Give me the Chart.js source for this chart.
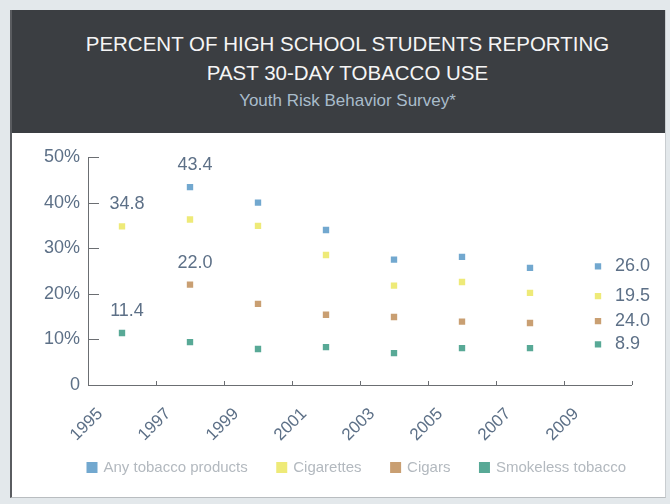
<!DOCTYPE html>
<html>
<head>
<meta charset="utf-8">
<script src="https://cdn.jsdelivr.net/npm/chart.js@4"></script>
<style>
  html, body { margin: 0; padding: 0; }
  body { width: 670px; height: 504px; background: #e3e8eb; position: relative; overflow: hidden;
         font-family: "Liberation Sans", Arial, sans-serif; }
  #panel { position: absolute; left: 10px; top: 10px; width: 653px; height: 487px; background: #fff;
           border-left: 2px solid #5a5c60; border-right: 1px solid #c9cdd0; border-bottom: 1px solid #b9bdc0; }
  #header { position: absolute; left: 0; top: 0; width: 653px; height: 123px; background: #3b3e42;
            text-align: center; box-sizing: border-box; padding-left: 18px; }
  #header .t { color: #f5f5f5; font-size: 20.5px; line-height: 29px; }
  #header .t1 { padding-top: 19px; }
  #header .s { color: #a9bccb; font-size: 17px; line-height: 28px; }
  #wrap { position: absolute; left: 0; top: 123px; width: 652px; height: 364px; }
</style>
</head>
<body>
<div id="panel">
  <div id="header">
    <div class="t t1">PERCENT OF HIGH SCHOOL STUDENTS REPORTING</div>
    <div class="t">PAST 30-DAY TOBACCO USE</div>
    <div class="s">Youth Risk Behavior Survey*</div>
  </div>
  <div id="wrap"><canvas id="myChart" width="652" height="364"></canvas></div>
</div>
<script>
// Survey years and percentages
const years = ['1995', '1997', '1999', '2001', '2003', '2005', '2007', '2009'];
const anyTobacco = [null, 43.4, 40.0, 34.0, 27.5, 28.1, 25.7, 26.0];
const cigarettes = [34.8, 36.3, 34.9, 28.5, 21.8, 22.6, 20.2, 19.5];
const cigars = [null, 22.0, 17.8, 15.4, 14.9, 13.9, 13.6, 14.0];
const smokeless = [11.4, 9.4, 7.9, 8.3, 7.0, 8.1, 8.1, 8.9];

// Printed value labels (as they appear on the chart)
const anyLabels = [null, '43.4', null, null, null, null, null, '26.0'];
const cigLabels = ['34.8', null, null, null, null, null, null, '19.5'];
const cigarLabels = [null, '22.0', null, null, null, null, null, '24.0'];
const smokelessLabels = ['11.4', null, null, null, null, null, null, '8.9'];

const yTicks = [0, 10, 20, 30, 40, 50];

const textColor = '#5d7087';

// Value labels next to points
const valueLabels = {
    id: 'valueLabels',
    afterDatasetsDraw(chart) {
        const ctx = chart.ctx;
        ctx.save();
        ctx.font = '18px "Liberation Sans", Arial, sans-serif';
        ctx.fillStyle = textColor;
        ctx.textBaseline = 'middle';
        chart.data.datasets.forEach((ds, i) => {
            const meta = chart.getDatasetMeta(i);
            ds.valueLabels.forEach((txt, j) => {
                if (!txt) return;
                const pt = meta.data[j];
                if (j === ds.valueLabels.length - 1) {
                    ctx.textAlign = 'left';
                    ctx.fillText(txt, pt.x + 17, pt.y);
                } else {
                    ctx.textAlign = 'center';
                    ctx.fillText(txt, pt.x + 5, pt.y - 22);
                }
            });
        });
        ctx.restore();
    }
};

// Axis lines with small inward ticks
const axisTicks = {
    id: 'axisTicks',
    afterDraw(chart) {
        const ctx = chart.ctx;
        const x = chart.scales.x, y = chart.scales.y;
        const a = chart.chartArea;
        ctx.save();
        ctx.strokeStyle = '#6b6e72';
        ctx.lineWidth = 1;
        ctx.beginPath();
        ctx.moveTo(a.left + 0.5, a.top);
        ctx.lineTo(a.left + 0.5, a.bottom + 0.5);
        ctx.lineTo(a.right, a.bottom + 0.5);
        yTicks.forEach(v => {
            const py = Math.round(y.getPixelForValue(v)) + 0.5;
            ctx.moveTo(a.left, py);
            ctx.lineTo(a.left + 11, py);
        });
        for (let i = 1; i <= years.length; i++) {
            const px = Math.round(x.getPixelForValue(i - 0.5)) + 0.5;
            ctx.moveTo(px, a.bottom);
            ctx.lineTo(px, a.bottom - 4);
        }
        ctx.stroke();
        ctx.restore();
    }
};

// Move the legend under the plot (start at the y axis, a bit higher)
const legendShift = {
    id: 'legendShift',
    afterLayout(chart) {
        const lg = chart.legend;
        lg.left += 46; lg.right += 46;
        lg.top -= 12; lg.bottom -= 12;
    }
};

const ctx = document.getElementById('myChart').getContext('2d');

const myChart = new Chart(ctx, {
    type: 'line',
    data: {
        labels: years,
        datasets: [
            { label: 'Any tobacco products', data: anyTobacco, valueLabels: anyLabels,
              backgroundColor: '#72a8cf', borderColor: '#72a8cf' },
            { label: 'Cigarettes', data: cigarettes, valueLabels: cigLabels,
              backgroundColor: '#eeea78', borderColor: '#eeea78' },
            { label: 'Cigars', data: cigars, valueLabels: cigarLabels,
              backgroundColor: '#c99f72', borderColor: '#c99f72' },
            { label: 'Smokeless tobacco', data: smokeless, valueLabels: smokelessLabels,
              backgroundColor: '#58a996', borderColor: '#58a996' }
        ]
    },
    options: {
        responsive: false,
        animation: false,
        showLine: false,
        layout: { padding: { left: 0, right: 32, top: 24, bottom: 0 } },
        elements: {
            point: { pointStyle: 'rect', radius: 4.5, borderWidth: 0, hoverRadius: 4.5 }
        },
        plugins: {
            legend: {
                position: 'bottom',
                align: 'start',
                labels: {
                    boxWidth: 8,
                    boxHeight: 8,
                    padding: 30,
                    color: '#b3b9bf',
                    font: { size: 15, family: '"Liberation Sans", Arial, sans-serif' }
                }
            },
            tooltip: { enabled: false }
        },
        scales: {
            x: {
                offset: true,
                grid: { display: false, drawTicks: false },
                border: { display: false },
                afterFit: s => { s.height = 57; },
                ticks: {
                    minRotation: 45,
                    maxRotation: 45,
                    padding: 19,
                    labelOffset: -22,
                    color: textColor,
                    font: { size: 17, family: '"Liberation Sans", Arial, sans-serif' }
                }
            },
            y: {
                min: 0,
                max: 50,
                afterFit: s => { s.width = 76; },
                afterBuildTicks: s => { s.ticks = yTicks.map(v => ({ value: v })); },
                grid: { display: false, drawTicks: false },
                border: { display: false },
                ticks: {
                    padding: 8,
                    color: textColor,
                    font: { size: 18, family: '"Liberation Sans", Arial, sans-serif' },
                    callback: v => v === 0 ? '0' : v + '%'
                }
            }
        }
    },
    plugins: [valueLabels, axisTicks, legendShift]
});
</script>
</body>
</html>
